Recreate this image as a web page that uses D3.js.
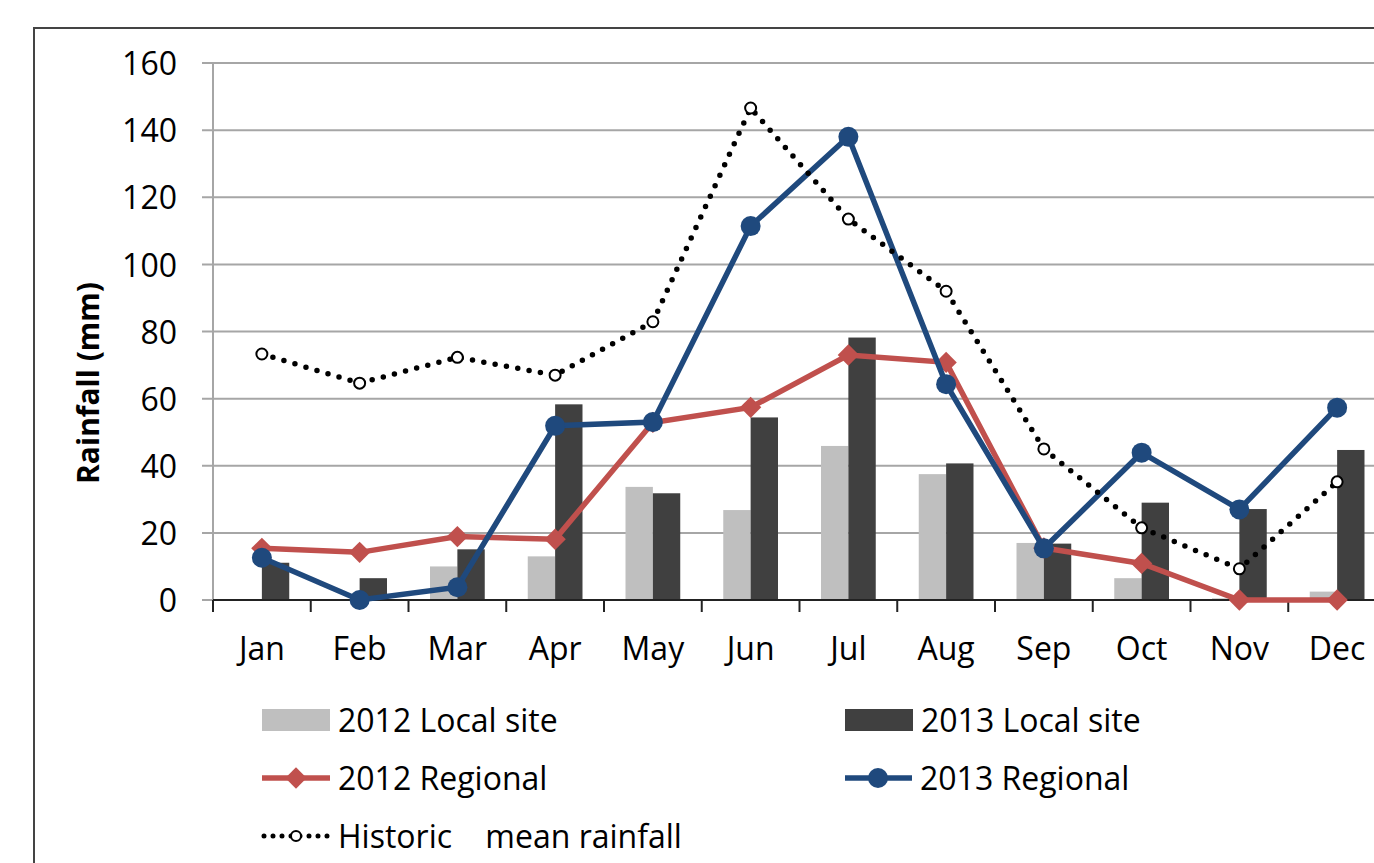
<!DOCTYPE html>
<html lang="en">
<head>
<meta charset="utf-8">
<script src="https://d3js.org/d3.v7.min.js"></script>
<style>
  body { margin: 0; background: #fff; }
  text { font-family: "Open Sans", sans-serif; fill: #000; }
  .grid line { stroke: #a6a6a6; stroke-width: 2px; }
</style>
<title>Rainfall</title>
</head>
<body>
<svg id="chart" width="1374" height="863"></svg>
<script>
// data
var months = ["Jan", "Feb", "Mar", "Apr", "May", "Jun", "Jul", "Aug", "Sep", "Oct", "Nov", "Dec"];
var local2012 = [0, 0, 10, 13, 33.7, 26.8, 45.9, 37.5, 17, 6.5, 0.5, 2.5];
var local2013 = [11.1, 6.5, 15.1, 58.3, 31.8, 54.4, 78.2, 40.7, 16.8, 29, 27.1, 44.7];
var regional2012 = [15.4, 14.2, 18.9, 18.1, 52.9, 57.4, 73, 70.8, 15.5, 10.9, 0, 0];
var regional2013 = [12.6, 0, 3.8, 51.9, 53, 111.4, 138, 64.3, 15.4, 43.9, 27, 57.3];
var historic = [73.3, 64.6, 72.3, 67, 82.9, 146.6, 113.5, 92, 45, 21.5, 9.3, 35.2];
var yTicks = [0, 20, 40, 60, 80, 100, 120, 140, 160];

var barSeries = ["2012 Local site", "2013 Local site"];
var barColors = ["#bfbfbf", "#404040"];
var red = "#c0504d", blue = "#1f497d";

var svg = d3.select("#chart");

// outer frame (runs off the right and bottom of the picture)
svg.append("rect")
  .attr("x", 34).attr("y", 28)
  .attr("width", 1450).attr("height", 950)
  .attr("fill", "none").attr("stroke", "#444").attr("stroke-width", 2);

var x0 = d3.scaleBand().domain(months).range([213, 1386])
  .paddingInner(0.44).paddingOuter(0.22);
var x1 = d3.scaleBand().domain(barSeries).range([0, x0.bandwidth()]);
var y = d3.scaleLinear().domain([0, 160]).range([600, 63]);
function cx(i) { return x0(months[i]) + x0.bandwidth() / 2; }

// gridlines + y tick labels
var grid = svg.append("g").attr("class", "grid");
grid.selectAll("line").data(yTicks).enter().append("line")
  .attr("x1", 202).attr("x2", 1400)
  .attr("y1", function(d) { return y(d); })
  .attr("y2", function(d) { return y(d); });

svg.append("g").selectAll("text").data(yTicks).enter().append("text")
  .attr("x", 177).attr("y", function(d) { return y(d); })
  .attr("dy", "0.38em")
  .attr("text-anchor", "end")
  .style("font-size", "32px")
  .text(function(d) { return d; });

// y axis line
svg.append("line")
  .attr("x1", 213).attr("x2", 213).attr("y1", y(160)).attr("y2", y(0))
  .attr("stroke", "#a6a6a6").attr("stroke-width", 2);

svg.append("text")
  .attr("transform", "translate(99," + 383 + ") rotate(-90)")
  .attr("text-anchor", "middle")
  .style("font-size", "30px").style("font-weight", "bold")
  .text("Rainfall (mm)");

// bars
var barData = [local2012, local2013];
barData.forEach(function(vals, s) {
  svg.append("g").selectAll("rect").data(vals).enter().append("rect")
    .attr("x", function(d, i) { return x0(months[i]) + x1(barSeries[s]); })
    .attr("width", x1.bandwidth())
    .attr("y", function(d) { return y(d); })
    .attr("height", function(d) { return y(0) - y(d); })
    .attr("fill", barColors[s]);
});

// x axis
svg.append("line")
  .attr("x1", 213).attr("x2", 1400).attr("y1", y(0)).attr("y2", y(0))
  .attr("stroke", "#222").attr("stroke-width", 2);
var bounds = d3.range(months.length + 1).map(function(i) { return 213 + i * x0.step(); });
svg.append("g").selectAll("line").data(bounds).enter().append("line")
  .attr("x1", function(d) { return d; }).attr("x2", function(d) { return d; })
  .attr("y1", y(0)).attr("y2", y(0) + 12)
  .attr("stroke", "#222").attr("stroke-width", 2);
svg.append("g").selectAll("text").data(months).enter().append("text")
  .attr("x", function(d, i) { return cx(i); })
  .attr("y", 660)
  .attr("text-anchor", "middle")
  .style("font-size", "32px")
  .text(function(d) { return d; });

var line = d3.line()
  .x(function(d, i) { return cx(i); })
  .y(function(d) { return y(d); });

var diamond = d3.symbol().type(d3.symbolDiamond2).size(290);

// 2012 regional
svg.append("path").datum(regional2012)
  .attr("d", line).attr("fill", "none")
  .attr("stroke", red).attr("stroke-width", 5.5);
svg.append("g").selectAll("path").data(regional2012).enter().append("path")
  .attr("d", diamond)
  .attr("transform", function(d, i) { return "translate(" + cx(i) + "," + y(d) + ")"; })
  .attr("fill", red);

// 2013 regional
svg.append("path").datum(regional2013)
  .attr("d", line).attr("fill", "none")
  .attr("stroke", blue).attr("stroke-width", 5.5);
svg.append("g").selectAll("circle").data(regional2013).enter().append("circle")
  .attr("cx", function(d, i) { return cx(i); })
  .attr("cy", function(d) { return y(d); })
  .attr("r", 10).attr("fill", blue);

// historic mean
svg.append("path").datum(historic)
  .attr("d", line).attr("fill", "none")
  .attr("stroke", "#000").attr("stroke-width", 5.5)
  .attr("stroke-linecap", "round").attr("stroke-dasharray", "0 11.5");
svg.append("g").selectAll("circle").data(historic).enter().append("circle")
  .attr("cx", function(d, i) { return cx(i); })
  .attr("cy", function(d) { return y(d); })
  .attr("r", 5.5).attr("fill", "#fff").attr("stroke", "#000").attr("stroke-width", 2);

// legend
var leg = svg.append("g");
var lx = [262, 845];
barSeries.forEach(function(name, s) {
  leg.append("rect").attr("x", lx[s]).attr("y", 709).attr("width", 68).attr("height", 22)
    .attr("fill", barColors[s]);
  leg.append("text").attr("x", lx[s] + 76).attr("y", 720).attr("dy", "0.36em")
    .style("font-size", "32px").text(name);
});

leg.append("line").attr("x1", 262).attr("x2", 330).attr("y1", 778).attr("y2", 778)
  .attr("stroke", red).attr("stroke-width", 5.5);
leg.append("path").attr("d", diamond).attr("transform", "translate(296,778)").attr("fill", red);
leg.append("text").attr("x", 338).attr("y", 778).attr("dy", "0.36em")
  .style("font-size", "32px").text("2012 Regional");

leg.append("line").attr("x1", 845).attr("x2", 912).attr("y1", 778).attr("y2", 778)
  .attr("stroke", blue).attr("stroke-width", 5.5);
leg.append("circle").attr("cx", 878).attr("cy", 778).attr("r", 10).attr("fill", blue);
leg.append("text").attr("x", 920).attr("y", 778).attr("dy", "0.36em")
  .style("font-size", "32px").text("2013 Regional");

leg.append("line").attr("x1", 264).attr("x2", 330).attr("y1", 836).attr("y2", 836)
  .attr("stroke", "#000").attr("stroke-width", 5)
  .attr("stroke-linecap", "round").attr("stroke-dasharray", "0 9");
leg.append("circle").attr("cx", 296).attr("cy", 836).attr("r", 5)
  .attr("fill", "#fff").attr("stroke", "#000").attr("stroke-width", 2);
leg.append("text").attr("x", 338).attr("y", 836).attr("dy", "0.36em")
  .style("font-size", "32px").style("white-space", "pre")
  .text("Historic    mean rainfall");
</script>
</body>
</html>
